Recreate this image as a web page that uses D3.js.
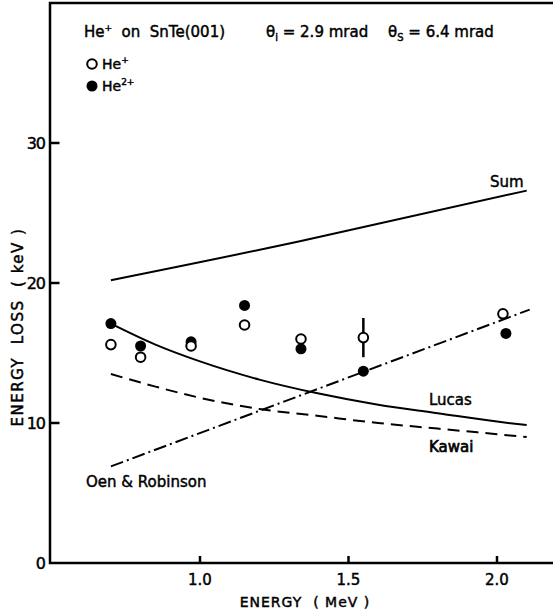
<!DOCTYPE html>
<html>
<head>
<meta charset="utf-8">
<script src="https://cdn.jsdelivr.net/npm/d3@7"></script>
<style>
  body { margin: 0; background: #fff; }
  text { font-family: "DejaVu Sans", sans-serif; fill: #000; stroke: #000; stroke-width: 0.45; white-space: pre; }
</style>
</head>
<body>
<script>
// measured points (MeV, keV)
const hePlusE = [0.70, 0.80, 0.97, 1.15, 1.34, 1.55, 2.02];
const hePlusV = [15.6, 14.7, 15.5, 17.0, 16.0, 16.1, 17.8];
const he2PlusE = [0.70, 0.80, 0.97, 1.15, 1.34, 1.55, 2.03];
const he2PlusV = [17.1, 15.5, 15.8, 18.4, 15.3, 13.7, 16.4];
// error bar on the 1.55 MeV He+ point
const errBar = [1.55, 14.7, 17.5];

// theory curves
const sumE = [0.70, 1.34, 2.10];
const sumV = [20.2, 23.0, 26.6];
const lucasE = [0.70, 0.85, 1.00, 1.20, 1.40, 1.60, 1.80, 2.00, 2.10];
const lucasV = [17.1, 15.6, 14.4, 13.1, 12.1, 11.3, 10.7, 10.1, 9.85];
const kawaiE = [0.70, 0.85, 1.00, 1.20, 1.40, 1.60, 1.80, 2.00, 2.10];
const kawaiV = [13.5, 12.6, 11.8, 11.0, 10.5, 10.0, 9.6, 9.2, 9.0];
const oenE = [0.70, 2.11];
const oenV = [6.9, 18.1];

const xTicks = [1.0, 1.5, 2.0];
const yTicks = [0, 10, 20, 30];

const W = 553, H = 613;
const svg = d3.select("body").append("svg")
    .attr("width", W)
    .attr("height", H);

const x = d3.scaleLinear().domain([0.5, 2.2]).range([51.5, 556.4]);
const y = d3.scaleLinear().domain([0, 40]).range([563, 3]);

// frame
svg.append("rect")
    .attr("x", x(0.5) - 1.5)
    .attr("y", y(40))
    .attr("width", x(2.2) - x(0.5) + 1.5)
    .attr("height", y(0) - y(40))
    .attr("fill", "none")
    .attr("stroke", "#000")
    .attr("stroke-width", 2.5);

// ticks pointing inward
svg.selectAll(".yt").data(yTicks.filter(d => d > 0)).enter().append("line")
    .attr("x1", x(0.5) - 1.5).attr("x2", x(0.5) + 8)
    .attr("y1", d => y(d)).attr("y2", d => y(d))
    .attr("stroke", "#000").attr("stroke-width", 2.5);

svg.selectAll(".ytl").data(yTicks).enter().append("text")
    .attr("x", 45).attr("y", d => y(d) + 6)
    .attr("text-anchor", "end")
    .attr("font-size", 16)
    .attr("letter-spacing", -1)
    .text(d => d);

svg.selectAll(".xt").data(xTicks).enter().append("line")
    .attr("x1", d => x(d)).attr("x2", d => x(d))
    .attr("y1", y(0)).attr("y2", y(0) - 7)
    .attr("stroke", "#000").attr("stroke-width", 2.5);

svg.selectAll(".xtl").data(xTicks).enter().append("text")
    .attr("x", d => x(d)).attr("y", 585)
    .attr("text-anchor", "middle")
    .attr("font-size", 15)
    .text(d => d.toFixed(1));

// axis titles
svg.append("text")
    .attr("x", 305).attr("y", 607)
    .attr("text-anchor", "middle")
    .attr("font-size", 14)
    .attr("letter-spacing", 1)
    .text("ENERGY  ( MeV )");

svg.append("text")
    .attr("transform", "translate(23,327) rotate(-90)")
    .attr("text-anchor", "middle")
    .attr("font-size", 15)
    .attr("letter-spacing", 1.5)
    .text("ENERGY  LOSS  ( keV )");

// curves
function curve(es, vs, dash, kind) {
    const line = d3.line()
        .x(d => x(d[0]))
        .y(d => y(d[1]))
        .curve(kind);
    svg.append("path")
        .datum(es.map((e, i) => [e, vs[i]]))
        .attr("d", line)
        .attr("fill", "none")
        .attr("stroke", "#000")
        .attr("stroke-width", 2)
        .attr("stroke-dasharray", dash);
}
curve(sumE, sumV, null, d3.curveNatural);
curve(lucasE, lucasV, null, d3.curveMonotoneX);
curve(kawaiE, kawaiV, "12,7", d3.curveMonotoneX);
curve(oenE, oenV, "13,4,2,4", d3.curveLinear);

// error bar
svg.append("line")
    .attr("x1", x(errBar[0])).attr("x2", x(errBar[0]))
    .attr("y1", y(errBar[1])).attr("y2", y(errBar[2]))
    .attr("stroke", "#000").attr("stroke-width", 2.5);

// data points
svg.selectAll(".he2").data(he2PlusE).enter().append("circle")
    .attr("cx", d => x(d))
    .attr("cy", (d, i) => y(he2PlusV[i]))
    .attr("r", 5.5)
    .attr("fill", "#000");

svg.selectAll(".he1").data(hePlusE).enter().append("circle")
    .attr("cx", d => x(d))
    .attr("cy", (d, i) => y(hePlusV[i]))
    .attr("r", 4.8)
    .attr("fill", "#fff")
    .attr("stroke", "#000")
    .attr("stroke-width", 2);

// curve labels
svg.append("text").attr("x", 490).attr("y", 187).attr("font-size", 15).text("Sum");
svg.append("text").attr("x", 429).attr("y", 405).attr("font-size", 15).text("Lucas");
svg.append("text").attr("x", 429).attr("y", 452).attr("font-size", 15).style("stroke-width", 0.65).text("Kawai");
svg.append("text").attr("x", 86).attr("y", 487).attr("font-size", 15).text("Oen & Robinson");

// header
const t1 = svg.append("text").attr("x", 84).attr("y", 37).attr("font-size", 15);
t1.append("tspan").text("He");
t1.append("tspan").attr("dy", -6).attr("font-size", 9).text("+");
t1.append("tspan").attr("dy", 6).text("  on  SnTe(001)");

const t2 = svg.append("text").attr("x", 266).attr("y", 37).attr("font-size", 15);
t2.append("tspan").text("θ");
t2.append("tspan").attr("dy", 4).attr("font-size", 10).text("i");
t2.append("tspan").attr("dy", -4).text(" = 2.9 mrad");

const t3 = svg.append("text").attr("x", 388).attr("y", 37).attr("font-size", 15);
t3.append("tspan").text("θ");
t3.append("tspan").attr("dy", 4).attr("font-size", 10).text("S");
t3.append("tspan").attr("dy", -4).text(" = 6.4 mrad");

// legend
svg.append("circle").attr("cx", 92).attr("cy", 64).attr("r", 4.8)
    .attr("fill", "#fff").attr("stroke", "#000").attr("stroke-width", 2);
const l1 = svg.append("text").attr("x", 102).attr("y", 69).attr("font-size", 14);
l1.append("tspan").text("He");
l1.append("tspan").attr("dy", -6).attr("font-size", 9).text("+");

svg.append("circle").attr("cx", 92).attr("cy", 86).attr("r", 5.5).attr("fill", "#000");
const l2 = svg.append("text").attr("x", 102).attr("y", 91).attr("font-size", 14);
l2.append("tspan").text("He");
l2.append("tspan").attr("dy", -6).attr("font-size", 9).text("2+");
</script>
</body>
</html>
